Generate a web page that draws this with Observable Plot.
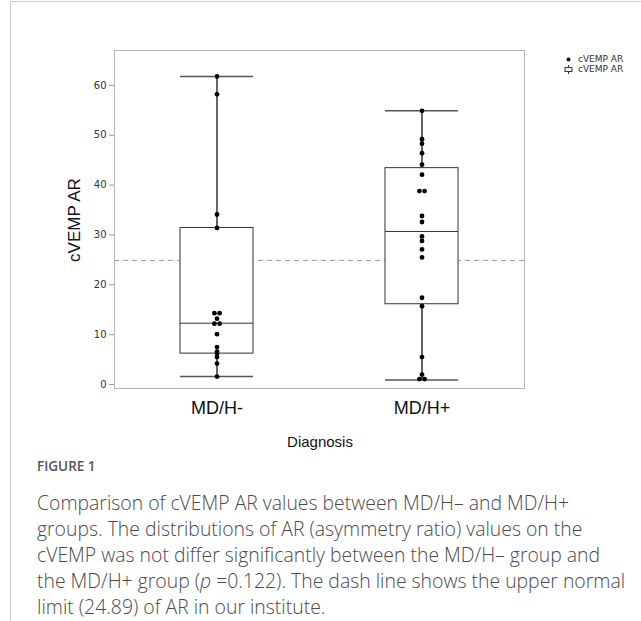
<!DOCTYPE html>
<html><head><meta charset="utf-8">
<script src="https://cdn.jsdelivr.net/npm/d3@7"></script>
<script src="https://cdn.jsdelivr.net/npm/@observablehq/plot@0.6"></script>
<style>
body{margin:0;background:#fff;}
#wrap{position:relative;width:641px;height:621px;overflow:hidden;font-family:"Liberation Sans",Arial,sans-serif;}
#border{position:absolute;left:10px;top:1px;width:700px;height:700px;border-top:1px solid #ccc;border-left:1px solid #ccc;}
#chart{position:absolute;left:0;top:0;}
.ylab{position:absolute;left:75px;top:220px;transform:translate(-50%,-50%) rotate(-90deg);font-size:17px;color:#111;white-space:nowrap;}
.xlab{position:absolute;left:320px;top:441px;transform:translate(-50%,-50%);font-size:15px;color:#111;white-space:nowrap;}
.legend{position:absolute;left:564px;top:54px;font-family:"DejaVu Sans",sans-serif;font-size:9px;color:#333;line-height:10px;}
.legend div{display:flex;align-items:center;}
.legend .sym{display:inline-block;width:9px;height:9px;margin-right:5px;}
.fig{position:absolute;left:37px;top:457px;font-family:"Open Sans",sans-serif;font-size:13.5px;font-weight:600;color:#555;}
.cap{position:absolute;left:37px;top:490px;font-family:"Open Sans",sans-serif;font-size:19.4px;font-weight:300;color:#4a4a4a;line-height:26px;white-space:nowrap;}
</style></head>
<body>
<div id="wrap">
<div id="border"></div>
<div id="chart"></div>
<div class="ylab">cVEMP AR</div>
<div class="xlab">Diagnosis</div>
<div class="legend">
 <div><svg class="sym" viewBox="0 0 9 9"><circle cx="4.5" cy="4.5" r="2" fill="#000"/></svg>cVEMP AR</div>
 <div><svg class="sym" viewBox="0 0 9 9"><line x1="4.5" y1="0" x2="4.5" y2="9" stroke="#333"/><rect x="1" y="2.5" width="7" height="4" fill="#fff" stroke="#333"/></svg>cVEMP AR</div>
</div>
<div class="fig">FIGURE 1</div>
<div class="cap">Comparison of cVEMP AR values between MD/H– and MD/H+<br>groups. The distributions of AR (asymmetry ratio) values on the<br>cVEMP was not differ significantly between the MD/H– group and<br>the MD/H+ group (<i>p</i> =0.122). The dash line shows the upper normal<br>limit (24.89) of AR in our institute.</div>
</div>
<script>
const groups = ["MD/H-", "MD/H+"];
const mdhNeg = [61.8, 58.2, 34.1, 31.4, 14.3, 14.3, 13.2, 12.2, 12.2, 10.1, 7.5, 6.6, 6.2, 5.5, 4.2, 1.6];
const mdhPos = [54.9, 49.2, 48.3, 46.4, 44.1, 42.1, 38.8, 38.8, 33.8, 32.6, 29.7, 28.8, 27.1, 25.5, 17.4, 15.7, 5.5, 2.0, 1.1, 1.1];
const whiskerLow = [1.6, 0.9];
const q1 = [6.2, 16.1];
const median = [12.3, 30.7];
const q3 = [31.4, 43.4];
const whiskerHigh = [61.8, 54.9];
const upperNormal = 24.89;
const yTicks = [0, 10, 20, 30, 40, 50, 60];

const rows = [];
[mdhNeg, mdhPos].forEach((vals, i) => {
  const seen = new Map();
  vals.forEach(v => {
    const c = vals.filter(w => w === v).length;
    const k = seen.get(v) || 0; seen.set(v, k + 1);
    rows.push({group: groups[i], value: v, slot: c === 1 ? 0 : (k === 0 ? -1 : 1)});
  });
});
const stats = groups.map((g, i) => ({group: g, lo: whiskerLow[i], q1: q1[i], med: median[i], q3: q3[i], hi: whiskerHigh[i]}));
const inset = {insetLeft: 66, insetRight: 66};

const chart = Plot.plot({
  width: 641, height: 460,
  marginLeft: 114, marginRight: 117, marginTop: 50, marginBottom: 72,
  style: {background: "transparent", fontFamily: "'Liberation Sans', Arial, sans-serif"},
  x: {type: "band", domain: groups, padding: 0, axis: null},
  y: {domain: [-0.8, 67], axis: null},
  marks: [
    Plot.frame({stroke: "#b5b5b5"}),
    Plot.ruleY([upperNormal], {stroke: "#9a9a9a", strokeDasharray: "5,4"}),
    Plot.ruleX(stats, {x: "group", y1: "lo", y2: "hi", stroke: "#111", strokeWidth: 1.3}),
    Plot.tickY(stats, {x: "group", y: "lo", stroke: "#555", strokeWidth: 1.5, ...inset}),
    Plot.tickY(stats, {x: "group", y: "hi", stroke: "#555", strokeWidth: 1.5, ...inset}),
    Plot.barY(stats, {x: "group", y1: "q1", y2: "q3", fill: "white", stroke: "#333", strokeWidth: 1, ...inset}),
    Plot.tickY(stats, {x: "group", y: "med", stroke: "#333", strokeWidth: 1, ...inset}),
    Plot.dot(rows.filter(d => d.slot === 0), {x: "group", y: "value", r: 2.4, fill: "#000"}),
    Plot.dot(rows.filter(d => d.slot === -1), {x: "group", y: "value", r: 2.4, fill: "#000", dx: -2.6}),
    Plot.dot(rows.filter(d => d.slot === 1), {x: "group", y: "value", r: 2.4, fill: "#000", dx: 2.6}),
    Plot.axisY({ticks: yTicks, tickSize: 5, tickPadding: 3, stroke: "#999", fontSize: 10, color: "#333", label: null, fontFamily: "'DejaVu Sans', sans-serif"}),
    Plot.axisX({tickSize: 0, tickPadding: 13, fontSize: 18, color: "#111", label: null})
  ]
});
document.getElementById("chart").appendChild(chart);
</script>
</body></html>
